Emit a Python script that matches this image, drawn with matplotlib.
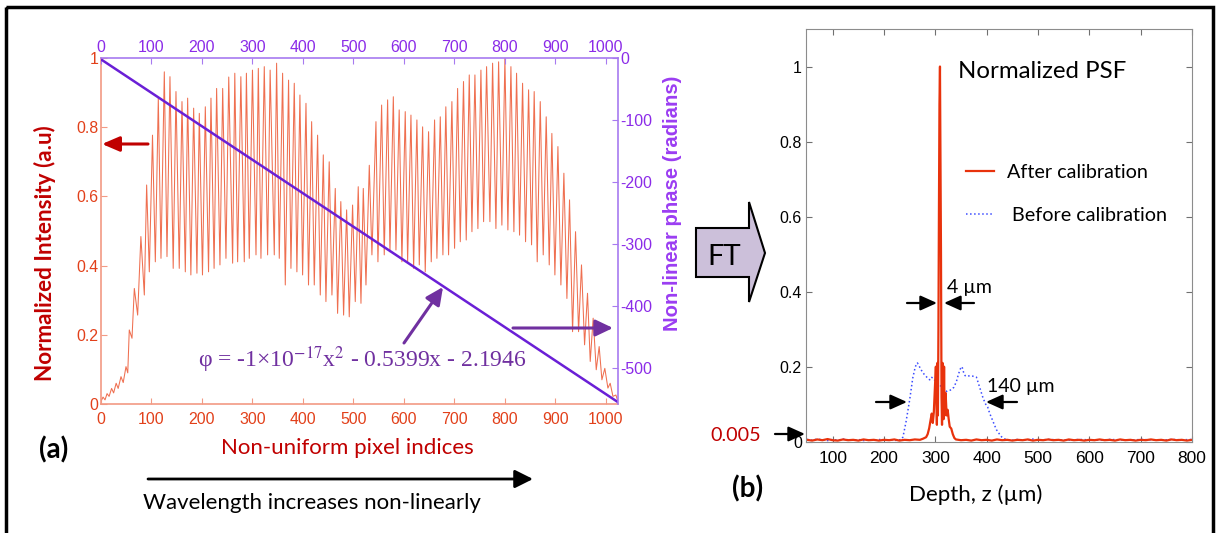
import matplotlib
matplotlib.use("Agg")
import matplotlib.pyplot as plt
from matplotlib.patches import Polygon, Rectangle

W, H = 1218, 533
plt.rcParams["axes.unicode_minus"] = False
plt.rcParams["mathtext.fontset"] = "stix"

# ---- (a) raw spectrum: fringe tops / bottoms (index, value)
spec_idx = [0, 4, 8, 12, 16, 21, 25, 30, 34, 39.6, 44, 49.5, 53, 56, 61.4, 66, 72.6, 79, 85.8, 90.4,
            95.7, 102, 107.6, 113.5, 118.8, 125.4, 130.7, 136.6, 143, 148.5, 155, 160.4, 167, 171.6,
            178, 183.5, 190, 194.7, 201, 206.6, 213, 217.8, 224, 229, 235.6, 241, 247.5, 253, 260.7,
            265, 270.6, 277, 283.8, 288, 293.7, 300, 307, 311.6, 316.8, 323.4, 330, 335, 343.2, 347.8,
            353.1, 359.7, 365, 371.5, 376.2, 382.8, 388, 394, 399.3, 406, 411, 417.2, 422.4, 429,
            434.3, 440.3, 445.5, 452, 457.4, 464, 468.6, 475, 480.5, 486.5, 491.7, 498.3, 503.6,
            509.5, 514.9, 519.5, 524.8, 531.4, 536.6, 544.6, 548.5, 555.8, 561, 567.7, 572.3, 579,
            584.2, 590.6, 596, 602.6, 607.3, 613.9, 619.2, 625.7, 630.4, 637, 642.2, 648.8, 654.1,
            660.7, 665.3, 672, 677.2, 683, 688.4, 695, 700.3, 706.3, 711.6, 718, 723.4, 729.4, 734.7,
            740.6, 746.5, 752.5, 757.8, 763.7, 770.3, 775.6, 782.2, 787.5, 794, 800, 805.9, 811.9,
            817.8, 823.1, 829, 835, 840.9, 846.9, 852.8, 858, 864, 870, 875.9, 881.8, 887.8, 893,
            899, 905, 910.9, 916.8, 922.8, 928, 934, 939.9, 945.9, 951.7, 957.8, 963.6, 969, 974.8,
            980.9, 986.7, 992.1, 997.9, 1004, 1008.5, 1014, 1019.8, 1024]
spec_val = [0.008, 0.02, 0.012, 0.03, 0.022, 0.045, 0.032, 0.06, 0.045, 0.079, 0.062, 0.108, 0.09,
            0.214, 0.19, 0.334, 0.257, 0.484, 0.315, 0.633, 0.382, 0.777, 0.411, 0.884, 0.421, 0.960,
            0.426, 0.946, 0.392, 0.903, 0.392, 0.874, 0.382, 0.884, 0.373, 0.855, 0.378, 0.840, 0.373,
            0.859, 0.382, 0.884, 0.392, 0.912, 0.402, 0.912, 0.421, 0.945, 0.407, 0.956, 0.411, 0.946,
            0.411, 0.956, 0.421, 0.965, 0.431, 0.970, 0.421, 0.975, 0.431, 0.965, 0.431, 0.985, 0.421,
            0.956, 0.344, 0.936, 0.392, 0.927, 0.382, 0.893, 0.373, 0.869, 0.344, 0.816, 0.344, 0.777,
            0.315, 0.720, 0.296, 0.700, 0.315, 0.623, 0.262, 0.585, 0.257, 0.561, 0.252, 0.575, 0.296,
            0.628, 0.291, 0.623, 0.344, 0.690, 0.431, 0.816, 0.411, 0.864, 0.431, 0.879, 0.440, 0.888,
            0.445, 0.850, 0.411, 0.845, 0.411, 0.835, 0.392, 0.821, 0.402, 0.801, 0.382, 0.787, 0.411,
            0.821, 0.421, 0.830, 0.431, 0.859, 0.431, 0.874, 0.450, 0.912, 0.469, 0.932, 0.474, 0.951,
            0.498, 0.951, 0.507, 0.965, 0.527, 0.975, 0.527, 0.985, 0.507, 0.989, 0.517, 0.999, 0.503,
            0.975, 0.498, 0.956, 0.488, 0.927, 0.469, 0.908, 0.460, 0.903, 0.411, 0.874, 0.431, 0.830,
            0.402, 0.782, 0.373, 0.744, 0.344, 0.667, 0.305, 0.590, 0.209, 0.498, 0.209, 0.402, 0.171,
            0.320, 0.123, 0.248, 0.099, 0.166, 0.070, 0.103, 0.046, 0.060, 0.022, 0.026, 0.007]

# fitted non-linear phase, end points of the drawn line
phase_idx = [0, 1024]
phase_val = [-2.19, -555.05]

# ---- (b) PSF vs depth
red_z = [50, 60, 70, 80, 90, 100, 110, 120, 130, 140, 150, 160, 170, 180, 190, 200, 210, 220, 230,
         240, 250, 260, 270, 276, 282, 285, 288, 291, 293, 295, 297, 299, 301, 302, 303, 304, 305,
         306, 307, 308, 309, 310, 311, 312, 313, 314, 315, 316, 317, 318, 320, 322, 324, 326, 328,
         331, 334, 337, 340, 350, 360, 370, 380, 390, 400, 410, 420, 430, 440, 450, 460, 470, 480,
         490, 500, 510, 520, 530, 540, 550, 560, 570, 580, 590, 600, 610, 620, 630, 640, 650, 660,
         670, 680, 690, 700, 710, 720, 730, 740, 750, 760, 770, 780, 790, 800]
red_v = [0.005, 0.003, 0.006, 0.004, 0.007, 0.004, 0.003, 0.006, 0.004, 0.005, 0.003, 0.006, 0.004,
         0.005, 0.003, 0.005, 0.004, 0.006, 0.003, 0.005, 0.004, 0.006, 0.005, 0.008, 0.012, 0.02,
         0.036, 0.06, 0.075, 0.05, 0.078, 0.14, 0.2, 0.12, 0.045, 0.21, 0.07, 0.3, 0.62, 0.9, 1.0,
         0.75, 0.5, 0.12, 0.045, 0.21, 0.18, 0.06, 0.2, 0.07, 0.13, 0.07, 0.085, 0.06, 0.04, 0.035,
         0.02, 0.01, 0.006, 0.004, 0.005, 0.003, 0.006, 0.004, 0.005, 0.003, 0.006, 0.004, 0.005,
         0.003, 0.005, 0.004, 0.006, 0.003, 0.005, 0.004, 0.006, 0.004, 0.005, 0.003, 0.006, 0.004,
         0.005, 0.003, 0.005, 0.004, 0.006, 0.004, 0.005, 0.003, 0.006, 0.004, 0.005, 0.003, 0.005,
         0.004, 0.006, 0.004, 0.005, 0.003, 0.006, 0.004, 0.005, 0.003, 0.005]
blue_z = [50, 60, 70, 80, 90, 100, 110, 120, 130, 140, 150, 160, 170, 180, 190, 200, 210, 220, 230,
          234, 237, 243, 250, 256, 261, 265, 269, 273, 278, 282, 286, 289, 292, 295, 298, 302, 307,
          312, 317, 322, 327, 331, 336, 341, 345, 349, 352, 355, 358, 362, 367, 372, 377, 380, 384,
          387, 393, 398, 402, 406, 410, 415, 419, 424, 429, 434, 439, 450, 460, 470, 480, 490, 500,
          520, 540, 560, 580, 600, 620, 640, 660, 680, 700, 720, 740, 760, 780, 800]
blue_v = [0.006, 0.004, 0.007, 0.005, 0.003, 0.006, 0.004, 0.007, 0.005, 0.004, 0.006, 0.003, 0.005,
          0.004, 0.006, 0.004, 0.005, 0.003, 0.005, 0.006, 0.013, 0.054, 0.112, 0.17, 0.2, 0.21, 0.2,
          0.19, 0.18, 0.174, 0.168, 0.165, 0.172, 0.17, 0.165, 0.16, 0.152, 0.147, 0.14, 0.134,
          0.137, 0.138, 0.145, 0.16, 0.18, 0.195, 0.2, 0.185, 0.176, 0.174, 0.176, 0.175, 0.173,
          0.172, 0.155, 0.142, 0.116, 0.1, 0.092, 0.075, 0.062, 0.045, 0.032, 0.022, 0.013, 0.008,
          0.005, 0.004, 0.006, 0.004, 0.005, 0.007, 0.004, 0.006, 0.005, 0.004, 0.006, 0.005, 0.004,
          0.006, 0.005, 0.004, 0.006, 0.005, 0.004, 0.006, 0.005, 0.006]

a_xticks = [0, 100, 200, 300, 400, 500, 600, 700, 800, 900, 1000]
a_yticks = [0, 0.2, 0.4, 0.6, 0.8, 1]
a_ylabels = ["0", "0.2", "0.4", "0.6", "0.8", "1"]
p_yticks = [-500, -400, -300, -200, -100, 0]
b_xticks = [100, 200, 300, 400, 500, 600, 700, 800]

NARROW = ["Liberation Sans Narrow", "Liberation Sans", "DejaVu Sans"]
SANS = ["Lato", "DejaVu Sans"]
ARIAL = ["Liberation Sans", "DejaVu Sans"]
SERIF = ["Liberation Serif", "DejaVu Serif"]


def px_rect(l, t, r, b):
    return [l / W, 1 - b / H, (r - l) / W, (b - t) / H]


fig = plt.figure(figsize=(W / 100, H / 100), dpi=100)
fig.patch.set_facecolor("white")

# ── panel (a): spectrum ──
ax_a = fig.add_axes(px_rect(101, 58, 618, 404))
ax_a.plot(spec_idx, spec_val, color="#ef6f50", lw=0.75)
ax_a.set_xlim(0, 1024)
ax_a.set_ylim(0, 1)
for s in ("top", "right"):
    ax_a.spines[s].set_visible(False)
for s in ("left", "bottom"):
    ax_a.spines[s].set_color("#f29a84")
    ax_a.spines[s].set_linewidth(1.2)
ax_a.set_xticks(a_xticks)
ax_a.set_xticklabels([str(v) for v in a_xticks], family=NARROW, fontsize=11.4)
ax_a.set_yticks(a_yticks)
ax_a.set_yticklabels(a_ylabels, family=NARROW, fontsize=11.4)
ax_a.tick_params(axis="x", direction="in", length=4, color="#f29a84", labelcolor="#e2401a", pad=5.5)
ax_a.tick_params(axis="y", direction="in", length=4, color="#f29a84", labelcolor="#e2401a", pad=2)

# phase on twin axes (top / right)
ax_p = fig.add_axes(px_rect(101, 58, 618, 404))
ax_p.patch.set_visible(False)
ax_p.plot(phase_idx, phase_val, color="#6a1fd6", lw=1.8)
ax_p.set_xlim(0, 1024)
ax_p.set_ylim(-558, 0)
for s in ("left", "bottom"):
    ax_p.spines[s].set_visible(False)
for s in ("top", "right"):
    ax_p.spines[s].set_color("#a77af0")
    ax_p.spines[s].set_linewidth(1.2)
ax_p.xaxis.tick_top()
ax_p.yaxis.tick_right()
ax_p.set_xticks(a_xticks)
ax_p.set_xticklabels([str(v) for v in a_xticks], family=NARROW, fontsize=11.4)
ax_p.set_yticks(p_yticks)
ax_p.set_yticklabels([str(v) for v in p_yticks], family=NARROW, fontsize=11.4)
ax_p.tick_params(axis="x", direction="in", length=4, color="#a77af0", labelcolor="#8b2be8", pad=2)
ax_p.tick_params(axis="y", direction="in", length=4, color="#a77af0", labelcolor="#8b2be8", pad=1.5)

# ── panel (b): PSF ──
ax_b = fig.add_axes(px_rect(806, 29, 1192, 441.7))
l_before, = ax_b.plot(blue_z, blue_v, ls=":", color="#3b4cff", lw=1.1)
l_after, = ax_b.plot(red_z, red_v, color="#e8320c", lw=1.6)
ax_b.set_xlim(48, 800)
ax_b.set_ylim(0, 1.1)
ax_b.set_xticks(b_xticks)
ax_b.set_xticklabels([str(v) for v in b_xticks], family=ARIAL, fontsize=12.5)
ax_b.set_yticks(a_yticks)
ax_b.set_yticklabels(a_ylabels, family=ARIAL, fontsize=11.5)
ax_b.tick_params(direction="in", length=4, top=True, right=True, color="#707070", labelcolor="black")
ax_b.tick_params(axis="x", pad=7)
ax_b.tick_params(axis="y", pad=3)
for s in ax_b.spines.values():
    s.set_color("#8c8c8c")
ax_b.legend([l_after, l_before], ["After calibration", " Before calibration"],
            loc="upper left", bbox_to_anchor=(966 / W, 1 - 164 / H), bbox_transform=fig.transFigure,
            frameon=False, prop={"family": SANS, "size": 14.2}, handlelength=1.4,
            handletextpad=0.7, labelspacing=1.3, borderpad=0, borderaxespad=0)

# ── overlay for labels, arrows and frame ──
ov = fig.add_axes([0, 0, 1, 1])
ov.set_xlim(0, W)
ov.set_ylim(H, 0)
ov.axis("off")
ov.set_zorder(10)


def arrow(x0, y0, x1, y1, color, lw=1.6, hl=1.0, hw=0.45):
    ov.annotate("", xy=(x1, y1), xytext=(x0, y0),
                arrowprops=dict(arrowstyle=f"-|>,head_length={hl},head_width={hw}",
                                color=color, lw=lw, shrinkA=0, shrinkB=0, mutation_scale=10))


ov.text(45, 253, "Normalized Intensity (a.u)", rotation=90, ha="center", va="center",
        family=SANS, fontsize=16.2, fontweight="bold", color="#c00000")
ov.text(672, 203, "Non-linear phase (radians)", rotation=90, ha="center", va="center",
        family=ARIAL, fontsize=14.6, fontweight="bold", color="#9b3df2")
ov.text(347, 454, "Non-uniform pixel indices", ha="center", va="baseline",
        family=SANS, fontsize=16, color="#c00000")
ov.text(54, 458, "(a)", ha="center", va="baseline", family=SANS, fontsize=20,
        fontweight="bold", color="black")
ov.text(143, 509, "Wavelength increases non-linearly", ha="left", va="baseline",
        family=SANS, fontsize=16, color="black")
arrow(148, 479, 533, 479, "black", lw=2, hl=1.1, hw=0.55)
ov.text(362, 360, r"φ = -1×10$^{-17}$x$^{2}$ - 0.5399x - 2.1946", ha="center", va="center",
        family=SERIF, fontsize=17, color="#7030a0")
arrow(404, 343, 443, 287, "#7030a0", lw=2.2, hl=1.05, hw=0.5)
arrow(513, 328, 613, 328, "#7030a0", lw=2.2, hl=1.05, hw=0.5)
arrow(148, 144, 102, 144, "#c00000", lw=2.2, hl=1.05, hw=0.45)

# FT block arrow
ov.add_patch(Polygon([(696, 228), (749, 228), (749, 202), (765, 253), (749, 302), (749, 277),
                      (696, 277)], closed=True, facecolor="#ccc0da", edgecolor="black", lw=1.5))
ov.text(724, 257, "FT", ha="center", va="center", family=SANS, fontsize=21, color="black")

ov.text(958, 78, "Normalized PSF", ha="left", va="baseline", family=SANS, fontsize=17.3,
        color="black")
ov.text(969, 293, "4 µm", ha="center", va="baseline", family=SANS, fontsize=14, color="black")
arrow(907, 303, 937, 303, "black", lw=1.6, hl=1.0, hw=0.45)
arrow(974, 303, 944, 303, "black", lw=1.6, hl=1.0, hw=0.45)
ov.text(1021, 392, "140 µm", ha="center", va="baseline", family=SANS, fontsize=14, color="black")
arrow(876, 402, 907, 402, "black", lw=1.6, hl=1.0, hw=0.45)
arrow(1017, 402, 986, 402, "black", lw=1.6, hl=1.0, hw=0.45)
ov.text(736, 441, "0.005", ha="center", va="baseline", family=SANS, fontsize=14.2, color="#c00000")
arrow(775, 434, 805, 434, "black", lw=1.6, hl=1.0, hw=0.45)
ov.text(748, 497, "(b)", ha="center", va="baseline", family=SANS, fontsize=20,
        fontweight="bold", color="black")
ov.text(976, 501, "Depth, z (µm)", ha="center", va="baseline", family=SANS, fontsize=16,
        color="black")

ov.add_patch(Rectangle((6, 7), 1207, 540, fill=False, edgecolor="black", lw=2.5, clip_on=False))

fig.savefig("out.png", dpi=100, facecolor="white")
